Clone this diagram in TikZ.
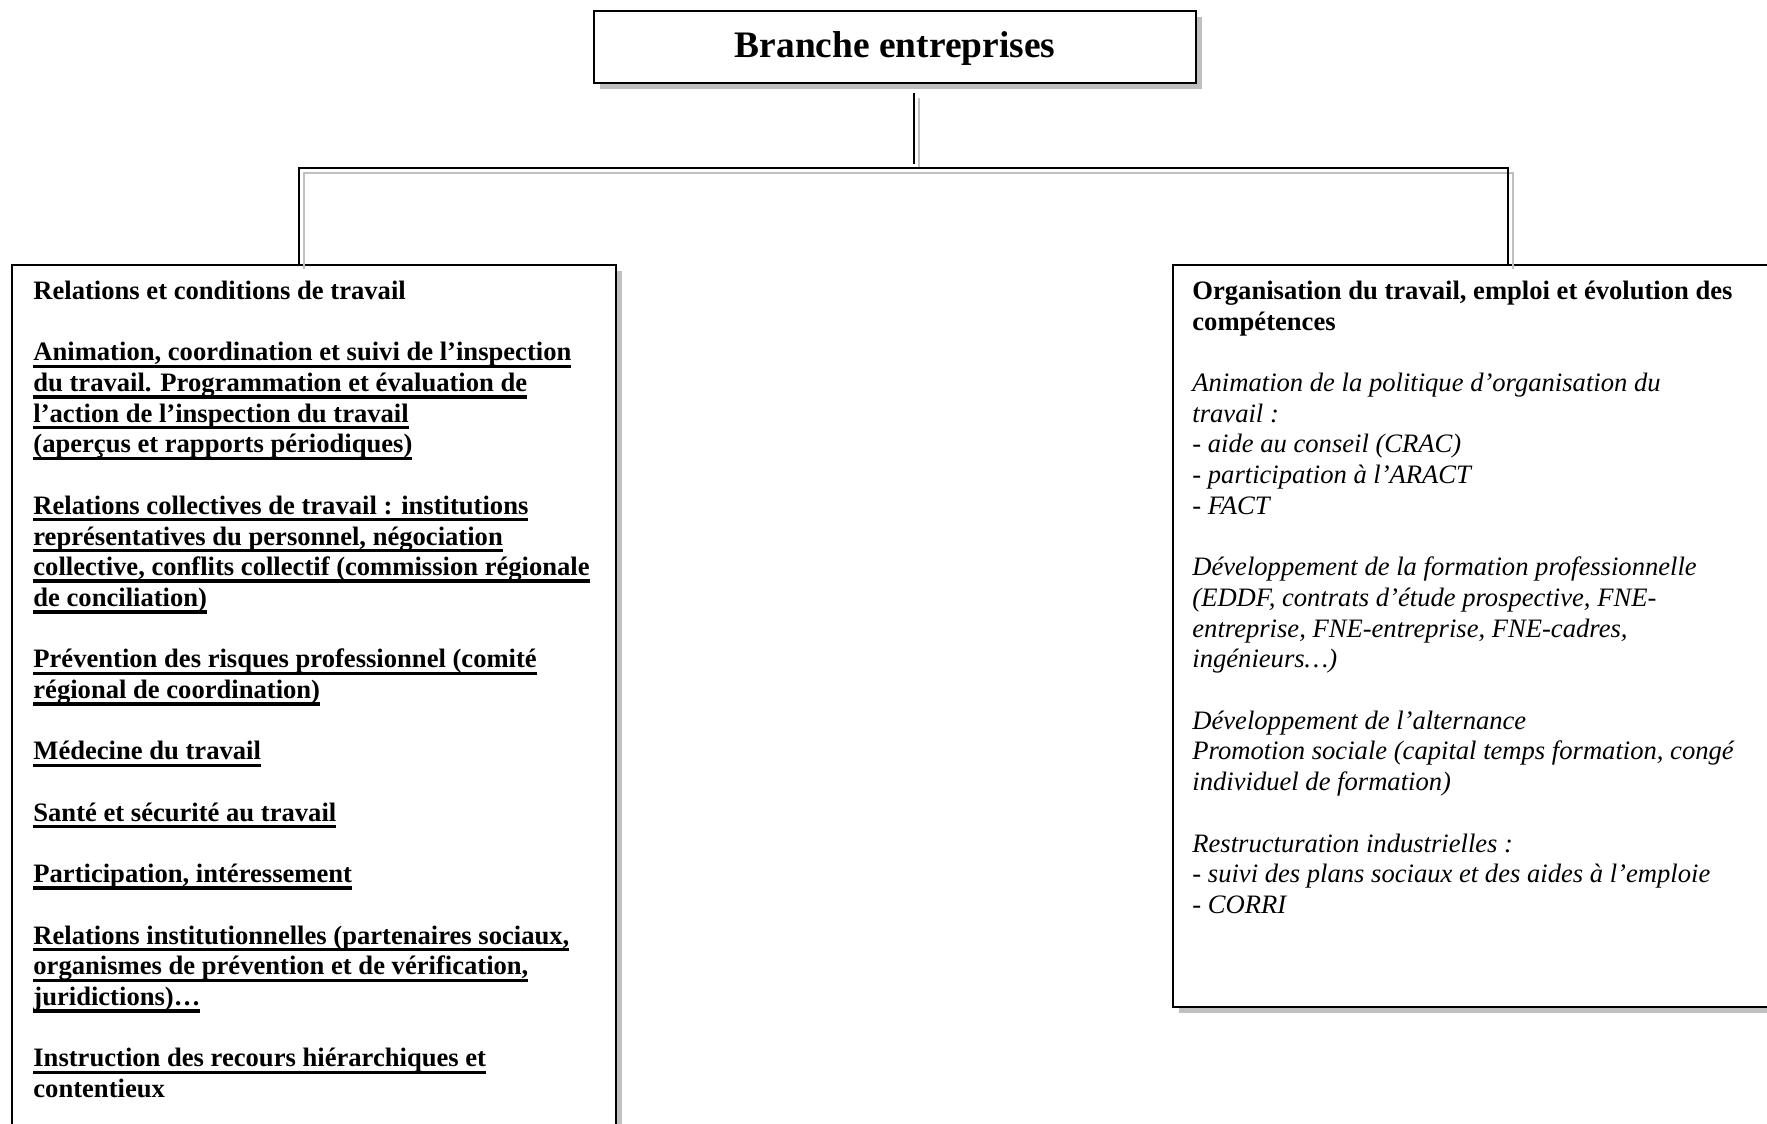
\documentclass[tikz,border=0pt]{standalone}
\usepackage{fontspec}
\setmainfont{Liberation Serif}
\usetikzlibrary{shadows}
\definecolor{shadowgray}{HTML}{C0C0C0}
% underline drawn at a fixed depth below the baseline, one line at a time
\newcommand\uln[1]{\setbox0\hbox{#1}\rlap{\rule[-0.27em]{\wd0}{0.13em}}\box0}
\begin{document}
\begin{tikzpicture}[x=0.5pt,y=-0.5pt,
  box/.style={draw=black, line width=1pt, fill=white, rectangle, anchor=north west, inner sep=0pt,
    drop shadow={shadow xshift=3pt, shadow yshift=-3pt, fill=shadowgray, opacity=1}},
  link/.style={draw=black, line width=1pt},
  linkshadow/.style={draw=shadowgray, line width=1pt},
  bodytext/.style={anchor=north west, inner sep=0pt, align=left, font=\fontsize{13.3}{15.35}\selectfont},
]
\useasboundingbox (0,0) rectangle (1767,1124);
\clip (0,0) rectangle (1767,1124);

% boxes
\node[box, minimum width=301pt, minimum height=36pt,
      font=\fontsize{18.7}{22}\selectfont\bfseries] (top) at (593,10) {\raisebox{-5.25pt}[0pt][0pt]{Branche entreprises}};
\node[box, minimum width=302pt, minimum height=440pt] (left) at (11,264) {};
\node[box, minimum width=320pt, minimum height=371pt] (right) at (1172,264) {};

% connector junctions
\coordinate (hub) at (914,168);
\coordinate (lj) at (299,168);
\coordinate (rj) at (1508,168);

% connector shadows
\begin{scope}[transform canvas={xshift=2.5pt,yshift=-2.5pt}]
  \draw[linkshadow, shorten <=4.5pt, shorten >=2pt] (hub |- top.south) -- (hub);
  \draw[linkshadow] (lj |- left.north) -- (lj) -- (rj) -- (rj |- right.north);
\end{scope}
% connectors
\draw[link, shorten <=4.5pt, shorten >=2pt] (hub |- top.south) -- (hub);
\draw[link] (lj |- left.north) -- (lj) -- (rj) -- (rj |- right.north);

% left column text
\node[bodytext, font=\fontsize{13.3}{15.35}\selectfont\bfseries] (lefttext) at (33,275) {%
\rule{0pt}{12pt}Relations et conditions de travail\\[15.35pt]
\uln{Animation, coordination et suivi de l’inspection}\\
\uln{du travail. Programmation et évaluation de}\\
\uln{l’action de l’inspection du travail}\\
\uln{(aperçus et rapports périodiques)}\\[15.35pt]
\uln{Relations collectives de travail : institutions}\\
\uln{représentatives du personnel, négociation}\\
\uln{collective, conflits collectif (commission régionale}\\
\uln{de conciliation)}\\[15.35pt]
\uln{Prévention des risques professionnel (comité}\\
\uln{régional de coordination)}\\[15.35pt]
\uln{Médecine du travail}\\[15.35pt]
\uln{Santé et sécurité au travail}\\[15.35pt]
\uln{Participation, intéressement}\\[15.35pt]
\uln{Relations institutionnelles (partenaires sociaux,}\\
\uln{organismes de prévention et de vérification,}\\
\uln{juridictions)…}\\[15.35pt]
\uln{Instruction des recours hiérarchiques et}\\
contentieux};

% right column text
\node[bodytext, font=\fontsize{13.3}{15.35}\selectfont\itshape] (righttext) at (1192,275) {%
\rule{0pt}{12pt}{\upshape\bfseries Organisation du travail, emploi et évolution des}\\
{\upshape\bfseries compétences}\\[15.35pt]
Animation de la politique d’organisation du\\
travail :\\
- aide au conseil (CRAC)\\
- participation à l’ARACT\\
- FACT\\[15.35pt]
Développement de la formation professionnelle\\
(EDDF, contrats d’étude prospective, FNE-\\
entreprise, FNE-entreprise, FNE-cadres,\\
ingénieurs…)\\[15.35pt]
Développement de l’alternance\\
Promotion sociale (capital temps formation, congé\\
individuel de formation)\\[15.35pt]
Restructuration industrielles :\\
- suivi des plans sociaux et des aides à l’emploie\\
- CORRI};
\end{tikzpicture}
\end{document}
